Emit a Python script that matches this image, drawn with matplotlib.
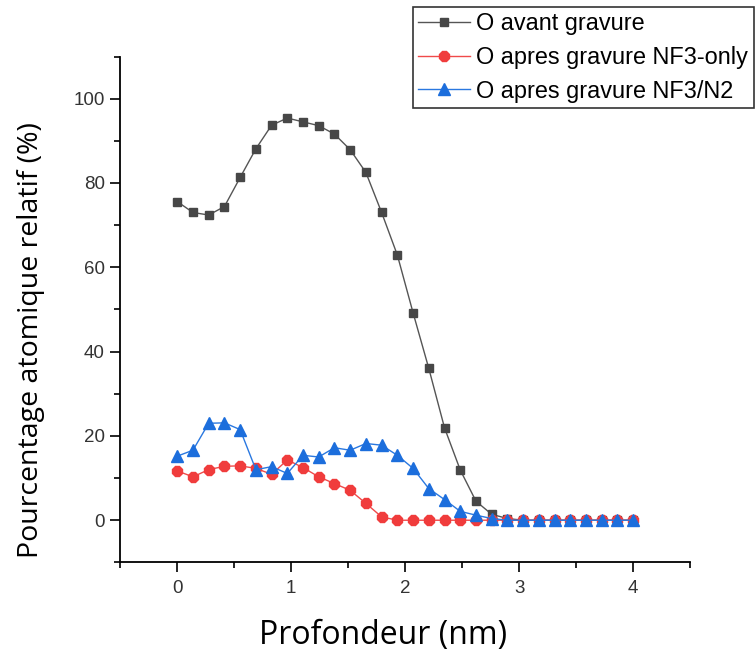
import matplotlib
matplotlib.use("Agg")
import matplotlib.pyplot as plt
from matplotlib.ticker import MultipleLocator

# depth (nm) and O atomic percentage for the three samples
depth = [0.0, 0.138, 0.276, 0.414, 0.552, 0.690, 0.828, 0.966, 1.103, 1.241,
         1.379, 1.517, 1.655, 1.793, 1.931, 2.069, 2.207, 2.345, 2.483, 2.621,
         2.759, 2.897, 3.034, 3.172, 3.310, 3.448, 3.586, 3.724, 3.862, 4.0]
o_avant = [75.6, 73.0, 72.4, 74.4, 81.3, 88.1, 93.7, 95.4, 94.5, 93.6,
           91.6, 87.9, 82.5, 73.0, 62.9, 49.2, 36.0, 21.9, 11.9, 4.5,
           1.4, 0.4, 0, 0, 0, 0, 0, 0, 0, 0]
o_nf3_only = [11.7, 10.3, 12.0, 12.8, 12.9, 12.3, 10.9, 14.3, 12.5, 10.3,
              8.7, 7.1, 4.0, 0.8, 0, 0, 0, 0, 0, 0,
              0, 0, 0, 0, 0, 0, 0, 0, 0, 0]
o_nf3_n2 = [15.2, 16.6, 23.0, 23.1, 21.5, 12.0, 12.7, 11.1, 15.4, 15.0,
            17.2, 16.6, 18.2, 17.8, 15.4, 12.3, 7.5, 4.9, 2.1, 1.2,
            0.4, 0, 0, 0, 0, 0, 0, 0, 0, 0]
labels = ["O avant gravure", "O apres gravure NF3-only", "O apres gravure NF3/N2"]

fig = plt.figure(figsize=(7.56, 6.57), dpi=100)
ax = fig.add_axes([0.159, 0.144, 0.754, 0.770])

ax.plot(depth, o_avant, color="#555555", lw=1, marker="s", ms=6,
        mfc="#474747", mec="#474747", label=labels[0], zorder=3)
ax.plot(depth, o_nf3_only, color="#f04a4a", lw=1, marker="8", ms=7.5,
        mfc="#f03c3c", mec="#f03c3c", label=labels[1], zorder=4)
ax.plot(depth, o_nf3_n2, color="#2a78e0", lw=1, marker="^", ms=8,
        mfc="#1c6edc", mec="#1c6edc", label=labels[2], zorder=5)

ax.set_xlim(-0.5, 4.5)
ax.set_ylim(-10, 110)
ax.xaxis.set_major_locator(MultipleLocator(1))
ax.xaxis.set_minor_locator(MultipleLocator(0.5))
ax.yaxis.set_major_locator(MultipleLocator(20))
ax.yaxis.set_minor_locator(MultipleLocator(10))
for s in ("top", "right"):
    ax.spines[s].set_visible(False)
for s in ("left", "bottom"):
    ax.spines[s].set_linewidth(1.3)
ax.tick_params(which="major", direction="out", length=7, width=1.2, colors="black",
               labelcolor="#333333", labelsize=13.5, pad=4)
ax.tick_params(which="minor", direction="out", length=4, width=1.2)
ax.tick_params(axis="x", which="major", pad=6)
for t in ax.get_xticklabels() + ax.get_yticklabels():
    t.set_fontfamily("Liberation Sans")

ax.set_xlabel("Profondeur (nm)", fontsize=23, family="Open Sans")
ax.set_ylabel("Pourcentage atomique relatif (%)", fontsize=20.5, family="Open Sans")
ax.xaxis.set_label_coords(0.461, -0.112)
ax.yaxis.set_label_coords(-0.132, 0.44)

leg = fig.legend(loc="upper right", bbox_to_anchor=(0.997, 0.990),
                 prop={"family": "Liberation Sans", "size": 16.9},
                 frameon=True, fancybox=False, edgecolor="black", handlelength=2.2,
                 handletextpad=0.25, borderpad=0.25, labelspacing=0.45, borderaxespad=0)
leg.get_frame().set_linewidth(1.2)

fig.savefig("out.png", dpi=100)
